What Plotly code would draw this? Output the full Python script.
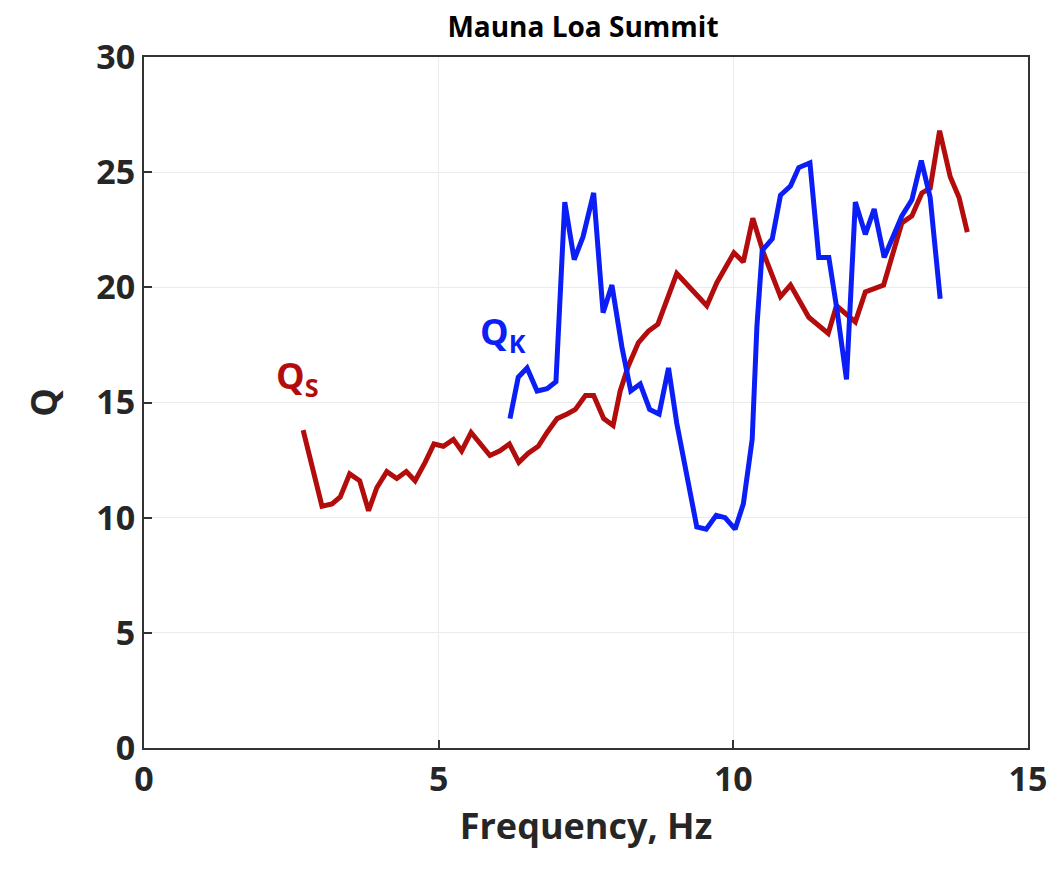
import plotly.graph_objects as go

# Qs (red) series
qs_freq = [2.70, 3.02, 3.19, 3.33, 3.49, 3.66, 3.81, 3.95, 4.12, 4.29, 4.45, 4.60,
           4.77, 4.92, 5.08, 5.25, 5.39, 5.55, 5.87, 6.04, 6.20, 6.36, 6.52, 6.69,
           6.84, 7.01, 7.18, 7.32, 7.49, 7.63, 7.80, 7.96, 8.08, 8.22, 8.39, 8.56,
           8.72, 9.04, 9.55, 9.72, 10.01, 10.17, 10.33, 10.51, 10.80, 10.97, 11.28,
           11.61, 11.75, 12.07, 12.24, 12.55, 12.86, 13.03, 13.20, 13.34, 13.50,
           13.68, 13.83, 13.97]
qs_vals = [13.8, 10.5, 10.6, 10.9, 11.9, 11.6, 10.3, 11.3, 12.0, 11.7, 12.0, 11.6,
           12.4, 13.2, 13.1, 13.4, 12.9, 13.7, 12.7, 12.9, 13.2, 12.4, 12.8, 13.1,
           13.7, 14.3, 14.5, 14.7, 15.3, 15.3, 14.3, 14.0, 15.5, 16.6, 17.6, 18.1,
           18.4, 20.6, 19.2, 20.2, 21.5, 21.1, 23.0, 21.5, 19.6, 20.1, 18.7,
           18.0, 19.2, 18.5, 19.8, 20.1, 22.8, 23.1, 24.1, 24.3, 26.8,
           24.8, 23.9, 22.4]

# Qk (blue) series
qk_freq = [6.21, 6.35, 6.50, 6.67, 6.84, 6.99, 7.14, 7.30, 7.45, 7.63, 7.79, 7.94,
           8.11, 8.26, 8.42, 8.58, 8.74, 8.90, 9.04, 9.21, 9.38, 9.54, 9.71, 9.86,
           10.03, 10.17, 10.32, 10.40, 10.49, 10.66, 10.80, 10.97, 11.11, 11.30,
           11.45, 11.62, 11.76, 11.92, 12.07, 12.24, 12.39, 12.56, 12.72, 12.86,
           13.03, 13.19, 13.34, 13.51]
qk_vals = [14.3, 16.1, 16.5, 15.5, 15.6, 15.9, 23.7, 21.2, 22.2, 24.1, 18.9, 20.1,
           17.4, 15.5, 15.8, 14.7, 14.5, 16.5, 14.1, 11.8, 9.6, 9.5, 10.1, 10.0,
           9.5, 10.6, 13.4, 18.3, 21.6, 22.1, 24.0, 24.4, 25.2, 25.4,
           21.3, 21.3, 19.0, 16.0, 23.7, 22.3, 23.4, 21.3, 22.2, 23.1,
           23.8, 25.5, 23.9, 19.5]

x_ticks = [0, 5, 10, 15]
y_ticks = [0, 5, 10, 15, 20, 25, 30]

RED = "#b30c0c"
BLUE = "#0a1ef5"
FONT = "Open Sans"
TXT = "#262626"

fig = go.Figure()
fig.add_trace(go.Scatter(x=qs_freq, y=qs_vals, mode="lines",
                         line=dict(color=RED, width=5), showlegend=False))
fig.add_trace(go.Scatter(x=qk_freq, y=qk_vals, mode="lines",
                         line=dict(color=BLUE, width=5), showlegend=False))

fig.add_annotation(x=2.6, y=16.1, xref="x", yref="y", text="<b>Q<sub>S</sub></b>",
                   showarrow=False, font=dict(family=FONT, size=36, color=RED))
fig.add_annotation(x=6.1, y=18.0, xref="x", yref="y", text="<b>Q<sub>K</sub></b>",
                   showarrow=False, font=dict(family=FONT, size=36, color=BLUE))

axis_common = dict(showline=True, linecolor="#333333", linewidth=2, mirror=True,
                   showgrid=True, gridcolor="#ebebeb", gridwidth=1,
                   ticks="inside", ticklen=8, tickwidth=1.5, tickcolor="#333333",
                   zeroline=False,
                   tickfont=dict(family=FONT, size=34, color=TXT, weight="bold"))

fig.update_layout(
    width=1058, height=881,
    margin=dict(l=144, r=30, t=57, b=133),
    paper_bgcolor="white", plot_bgcolor="white",
    title=dict(text="Mauna Loa Summit", x=0.551, xanchor="center", y=0.969, yanchor="middle",
               font=dict(family=FONT, size=28, color="black", weight="bold")),
    xaxis=dict(range=[0, 15], tickvals=x_ticks, title=dict(
        text="Frequency, Hz", standoff=14,
        font=dict(family=FONT, size=36, color=TXT, weight="bold")), **axis_common),
    yaxis=dict(range=[0, 30], tickvals=y_ticks, title=dict(
        text="Q", standoff=28,
        font=dict(family=FONT, size=36, color=TXT, weight="bold")), **axis_common),
)

fig.write_html("out.html")
